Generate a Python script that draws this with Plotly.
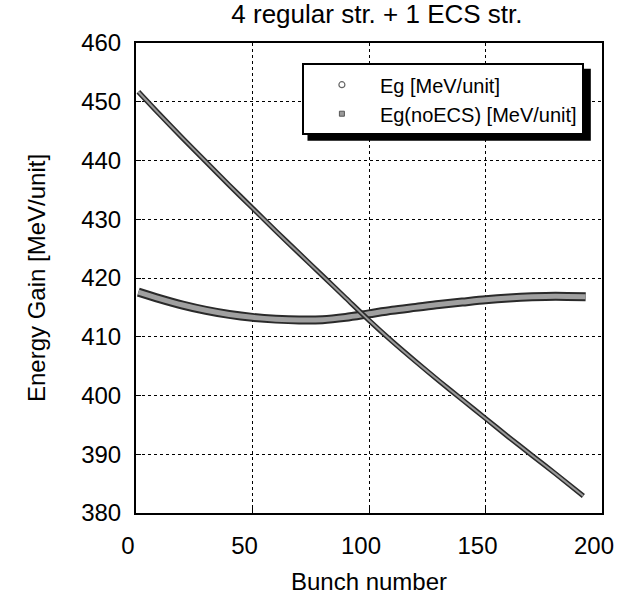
import plotly.graph_objects as go

# ---- data ----
bunch_eg = [1, 10, 20, 30, 40, 50, 60, 70, 80, 90, 100, 110, 120, 130, 140, 150, 160, 170, 180, 193]
eg = [417.6, 416.5, 415.4, 414.5, 413.8, 413.3, 413.0, 412.85, 412.9, 413.3,
      413.9, 414.5, 415.0, 415.5, 415.9, 416.3, 416.6, 416.8, 416.9, 416.8]

bunch_noecs = [1, 10, 20, 30, 40, 50, 60, 70, 80, 90, 100, 110, 120, 130, 140, 150, 160, 170, 180, 192]
eg_noecs = [451.7, 447.9, 443.8, 439.8, 435.8, 431.9, 428.0, 424.2, 420.4, 416.6,
            412.8, 409.2, 405.8, 402.5, 399.3, 396.1, 392.9, 389.8, 386.7, 382.9]

x_ticks = [0, 50, 100, 150, 200]
y_ticks = [380, 390, 400, 410, 420, 430, 440, 450, 460]

title_text = "4 regular str. + 1 ECS str."
x_label = "Bunch number"
y_label = "Energy Gain [MeV/unit]"
name_eg = "Eg [MeV/unit]"
name_noecs = "Eg(noECS) [MeV/unit]"

FONT = "Liberation Sans, Arial, sans-serif"

fig = go.Figure()

# Eg band (dark edge + gray core)
fig.add_trace(go.Scatter(x=bunch_eg, y=eg, mode="lines", showlegend=False,
                         line=dict(color="#2a2a2a", width=9, shape="spline", smoothing=0.8),
                         hoverinfo="skip"))
fig.add_trace(go.Scatter(x=bunch_eg, y=eg, mode="lines", showlegend=False,
                         line=dict(color="#a0a0a0", width=5, shape="spline", smoothing=0.8)))
# noECS band
fig.add_trace(go.Scatter(x=bunch_noecs, y=eg_noecs, mode="lines", showlegend=False,
                         line=dict(color="#2a2a2a", width=5, shape="spline", smoothing=0.8),
                         hoverinfo="skip"))
fig.add_trace(go.Scatter(x=bunch_noecs, y=eg_noecs, mode="lines", showlegend=False,
                         line=dict(color="#9a9a9a", width=2, shape="spline", smoothing=0.8)))

# legend entries (marker symbols as in the reference legend)
fig.add_trace(go.Scatter(x=[None], y=[None], mode="markers", name=name_eg,
                         marker=dict(symbol="circle-open", size=6, color="#666666",
                                     line=dict(width=1.2, color="#666666"))))
fig.add_trace(go.Scatter(x=[None], y=[None], mode="markers", name=name_noecs,
                         marker=dict(symbol="square", size=5, color="#9a9a9a",
                                     line=dict(width=1, color="#555555"))))

axis_common = dict(
    showline=True, linecolor="black", linewidth=2, mirror=True,
    showgrid=True, gridcolor="black", griddash="dot", gridwidth=1,
    zeroline=False, ticks="inside", ticklen=5, tickcolor="black",
    tickfont=dict(family=FONT, size=24, color="black"),
)

fig.update_layout(
    width=623, height=595,
    margin=dict(l=136, r=21, t=43, b=82, autoexpand=False),
    paper_bgcolor="white", plot_bgcolor="white",
    font=dict(family=FONT, color="black"),
    title=dict(text=title_text, x=0.605, xref="container", xanchor="center",
               y=0.976, yref="container", yanchor="middle",
               font=dict(family=FONT, size=26, color="black")),
    xaxis=dict(range=[0, 200], tickvals=x_ticks, ticklabelstandoff=10, ticklabelshift=-8,
               title=dict(text=x_label, standoff=20, font=dict(family=FONT, size=24, color="black")),
               **axis_common),
    yaxis=dict(range=[380, 460], tickvals=y_ticks, ticklabelstandoff=8,
               title=dict(text=y_label, standoff=29, font=dict(family=FONT, size=24, color="black")),
               **axis_common),
    legend=dict(x=0.356, y=0.957, xanchor="left", yanchor="top",
                bgcolor="white", bordercolor="black", borderwidth=2,
                itemwidth=66,
                font=dict(family=FONT, size=20, color="black")),
    shapes=[dict(type="rect", xref="paper", yref="paper",
                 x0=0.368, x1=0.976, y0=0.792, y1=0.945,
                 fillcolor="black", line=dict(width=0), layer="above")],
)

fig.write_html("out.html")
